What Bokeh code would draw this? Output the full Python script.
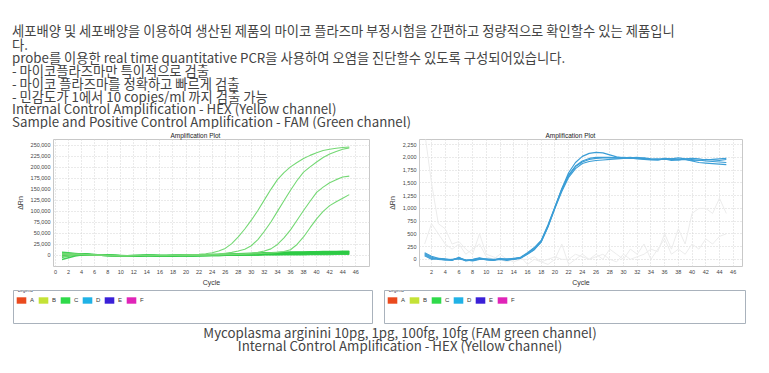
from bokeh.plotting import figure
from bokeh.layouts import column, row
from bokeh.models import (Div, FixedTicker, NumeralTickFormatter, Legend, LegendItem,
                          Label, Title)
from bokeh.embed import file_html
from bokeh.resources import INLINE

# ---------------- data ----------------
intro_first = "세포배양 및 세포배양을 이용하여 생산된 제품의 마이코 플라즈마 부정시험을 간편하고 정량적으로 확인할수 있는 제품입니"
intro_rest = [
    "다.",
    "probe를 이용한 real time quantitative PCR을 사용하여 오염을 진단할수 있도록 구성되어있습니다.",
    "- 마이코플라즈마만 특이적으로 검출",
    "- 마이코 플라즈마를 정확하고 빠르게 검출",
    "- 민감도가 1에서 10 copies/ml 까지 검출 가능",
    "Internal Control Amplification - HEX (Yellow channel)",
    "Sample and Positive Control Amplification - FAM (Green channel)",
]
caption_lines = [
    "Mycoplasma arginini 10pg, 1pg, 100fg, 10fg (FAM green channel)",
    "Internal Control Amplification - HEX (Yellow channel)",
]
plot_title = "Amplification Plot"
x_label = "Cycle"
y_label = "ΔRn"
legend_labels = ["A", "B", "C", "D", "E", "F"]
legend_colors = ["#ea4a1e", "#c4e236", "#2fda4a", "#20b2e6", "#3a20d8", "#e024b8"]

cycles = list(range(1, 46))
fam_x_ticks = list(range(0, 47, 2))
fam_y_ticks = list(range(0, 250001, 25000))
hex_x_ticks = list(range(2, 47, 2))
hex_y_ticks = list(range(0, 2251, 250))

# FAM channel: four positive amplification curves (10pg, 1pg, 100fg, 10fg)
fam_amp_10pg = [3000, 3500, 3000, 2500, 1500, 1000, 500, 0, -500, -1000, -1000, -500, 0, 0, 0,
                0, 0, 500, 1000, 1500, 2000, 2500, 4000, 6000, 10000, 16000, 27000, 42000, 60000,
                80000, 102000, 126000, 150000, 172000, 188000, 201000, 211000, 220000, 227000,
                233000, 238000, 241000, 243000, 245000, 246000]
fam_amp_1pg = [1000, 2000, 2500, 2500, 2000, 1000, 500, 0, 0, -500, -500, 0, 0, 0, 0,
               -500, -500, 0, 0, 500, 1000, 1500, 2000, 2500, 3000, 5000, 7000, 10000, 14000,
               22000, 36000, 55000, 76000, 100000, 124000, 148000, 170000, 189000, 201000,
               212000, 222000, 230000, 236000, 241000, 244000]
fam_amp_100fg = [5000, 4000, 3000, 2500, 2000, 1000, 500, 0, -500, -500, 0, 0, 0, 0, 0,
                 0, 0, 0, 0, 0, 500, 500, 1000, 1500, 2000, 2500, 3000, 3500, 4000,
                 5000, 7000, 10000, 15000, 25000, 40000, 58000, 80000, 102000, 123000,
                 143000, 155000, 165000, 172000, 178000, 180000]
fam_amp_10fg = [-3000, -1000, 1000, 2000, 2000, 1500, 1000, 500, 0, 0, -500, -500, 0, 0, 0,
                0, 0, 0, 0, 0, 0, 500, 500, 1000, 1000, 1500, 2000, 2500, 3000,
                3500, 4000, 5000, 6000, 7000, 9000, 13000, 25000, 42000, 63000, 83000,
                100000, 113000, 122000, 130000, 138000]
# FAM channel: flat (negative / non-amplifying) wells
fam_flat_1 = [7000, 6000, 4500, 3000, 2000, 1000, 500, 0, 0, -500, -500, 0, 0, 0, 0,
              0, 0, 0, 500, 500, 1000, 1000, 1500, 2000, 2500, 3000, 3500, 4000, 4500, 5000,
              5500, 6000, 6000, 6500, 7000, 7500, 8000, 8000, 8500, 8500, 9000, 9000, 9000, 9500, 9500]
fam_flat_2 = [4000, 3500, 3000, 2500, 2000, 1500, 1000, 500, 0, -500, -1000, -500, 0, 0, -500,
              -1000, -500, 0, 0, -500, -500, 0, 0, 500, 1000, 1500, 2000, 2500, 3000, 3500,
              4000, 4500, 5000, 5500, 6000, 6500, 7000, 7000, 7500, 7500, 8000, 8000, 8000, 8500, 8500]
fam_flat_3 = [2000, 2500, 3000, 3000, 2500, 2000, 1000, 500, 0, -500, -1000, -1000, -500, 0, 0,
              -500, -500, 0, 0, 0, 500, 500, 1000, 1000, 1500, 2000, 2500, 3000, 3000, 3500,
              4000, 4000, 4500, 5000, 5000, 5500, 5500, 6000, 6000, 6000, 6500, 6500, 6500, 7000, 7000]
fam_flat_4 = [0, 1500, 2500, 3000, 2000, 1000, 500, 0, 0, 0, -500, -500, 0, 0, 0,
              0, 0, -500, -500, 0, 0, 0, 500, 500, 1000, 1000, 1500, 1500, 2000, 2500,
              2500, 3000, 3000, 3500, 3500, 4000, 4000, 4500, 4500, 4500, 5000, 5000, 5000, 5500, 5500]
fam_flat_5 = [-2000, 0, 1500, 2500, 2000, 1500, 500, 0, -500, -1000, -1500, -1000, -500, 0, 0,
              -500, -1000, -1000, -500, 0, 0, 0, 0, 500, 500, 1000, 1000, 1500, 1500, 2000,
              2000, 2500, 2500, 2500, 3000, 3000, 3000, 3500, 3500, 3500, 3500, 4000, 4000, 4000, 4000]
fam_flat_6 = [-4000, -1000, 1000, 2000, 2000, 1500, 1000, 500, 0, -500, -500, 0, 0, 0, 0,
              0, 0, 0, 0, 0, 0, 0, 0, 0, 0, 500, 500, 500, 1000, 1000,
              1000, 1500, 1500, 1500, 2000, 2000, 2000, 2000, 2500, 2500, 2500, 2500, 3000, 3000, 3000]
fam_flat_7 = [-9000, -5000, -1000, 1000, 1500, 1000, 500, 0, 0, -500, -1000, -1000, -500, 0, 0,
              -500, -500, 0, 0, -500, -1000, -500, 0, 0, 0, 500, 1000, 1500, 2000, 2000,
              2500, 3000, 3500, 4000, 4500, 5000, 5500, 6000, 6500, 7000, 7000, 7500, 8000, 8000, 8000]

# HEX channel: internal control curves
hex_ic_1 = [130, 60, 20, 0, -10, 30, -20, 0, 30, 0, -10, 10, 0, 20, 40,
            130, 230, 370, 680, 1030, 1380, 1660, 1830, 1930, 1980,
            2000, 2000, 2000, 1990, 1990, 1980, 1990, 1970, 1960, 1970,
            1960, 1970, 1960, 1960, 1940, 1950, 1930, 1920, 1910, 1900]
hex_ic_2 = [110, 40, 10, -10, -20, 40, -30, -10, 20, -10, -20, 0, -20, 10, 30,
            120, 220, 360, 660, 1010, 1380, 1700, 1900, 2020, 2080,
            2100, 2090, 2050, 2010, 1990, 2000, 1980, 1990, 1970, 1960,
            1980, 1970, 1990, 1970, 1960, 1940, 1960, 1950, 1940, 1960]
hex_ic_3 = [90, 20, 0, -10, 0, 10, -20, -20, 10, 0, -20, 20, -10, 0, 20,
            100, 190, 340, 640, 1000, 1330, 1610, 1780, 1880, 1920,
            1940, 1950, 1960, 1970, 1980, 1990, 2000, 1980, 1960, 1950,
            1970, 1940, 1950, 1960, 1930, 1900, 1890, 1880, 1870, 1860]
hex_ic_4 = [70, 0, 20, 10, -10, 20, -10, -30, 0, 10, 0, 0, 10, 10, 30,
            110, 200, 350, 650, 1020, 1360, 1640, 1820, 1910, 1960,
            1980, 1990, 1990, 1990, 2000, 1990, 1970, 1960, 1950, 1950,
            1970, 1960, 1950, 1970, 1980, 1970, 1950, 1960, 1970, 1980]
# HEX channel: faint background traces
hex_bg_1 = [2500, 1500, 700, 600, 300, 350, 200, 100, 500, 100, 50, 0, -50, 0, 50,
            -100, 0, -50, -100, 0, 300, -100, 0, 100, 0,
            50, 100, 0, -50, 100, 0, 50, 100, 200, 150,
            500, 200, 600, 300, 900, 1000, 1000, 900, 1200, 900]
hex_bg_2 = [300, 700, 500, 300, 200, 300, 100, 200, 300, 50, 0, 100, 0, -50, 0,
            0, 50, -50, 0, 50, 0, 0, 100, 50, 0,
            100, 0, 200, 100, 0, 200, 100, 300, 0, 200,
            400, 100, 200, 100, 300, 200, 400, 300, 450, 500]

fam_amp = [fam_amp_10pg, fam_amp_1pg, fam_amp_100fg, fam_amp_10fg]
fam_flat = [fam_flat_1, fam_flat_2, fam_flat_3, fam_flat_4, fam_flat_5, fam_flat_6, fam_flat_7]
hex_ic = [hex_ic_1, hex_ic_2, hex_ic_3, hex_ic_4]
hex_bg = [hex_bg_1, hex_bg_2]

# ---------------- styles ----------------
TXT_FONT = "'Noto Sans CJK KR', 'Noto Sans', sans-serif"
TICK_FONT = "Liberation Sans"


def style_chart(p, xticks, yticks, title_offset):
    p.title = Title(text=plot_title, align="left", text_font=TICK_FONT,
                    text_font_size="6.5px", text_font_style="normal", text_color="#222",
                    standoff=1, offset=title_offset)
    p.outline_line_color = "#c8c8c8"
    p.background_fill_color = "white"
    p.border_fill_color = "white"
    for ax in (p.xaxis[0], p.yaxis[0]):
        ax.axis_line_color = None
        ax.major_tick_line_color = None
        ax.minor_tick_line_color = None
        ax.major_tick_out = 0
        ax.major_tick_in = 0
        ax.major_label_text_font = TICK_FONT
        ax.major_label_text_font_size = "5.5px"
        ax.major_label_text_color = "#444"
        ax.axis_label_text_font = TICK_FONT
        ax.axis_label_text_font_size = "7px"
        ax.axis_label_text_font_style = "normal"
        ax.axis_label_text_color = "#333"
        ax.major_label_standoff = 3
        ax.axis_label_standoff = 4
    p.xaxis[0].ticker = FixedTicker(ticks=xticks)
    p.yaxis[0].ticker = FixedTicker(ticks=yticks)
    p.xaxis[0].axis_label = x_label
    p.yaxis[0].axis_label = y_label
    p.xaxis[0].axis_label_standoff = 2
    p.xgrid.ticker = FixedTicker(ticks=xticks)
    for g in (p.xgrid[0], p.ygrid[0]):
        g.grid_line_color = "#d4d4d4"
        g.grid_line_dash = "1 2"
        g.grid_line_width = 1


# ---------------- left chart (FAM) ----------------
p1 = figure(width=380, height=160, x_range=(-0.3, 48.1), y_range=(-25000, 263000),
            output_backend="svg", toolbar_location=None,
            min_border_left=53, min_border_right=11, min_border_top=10, min_border_bottom=20)
style_chart(p1, fam_x_ticks, fam_y_ticks, 117)
p1.yaxis[0].formatter = NumeralTickFormatter(format="0,0")
for ys in fam_flat:
    p1.line(cycles, ys, line_color="#2ecb45", line_width=1.6, line_alpha=0.9)
for ys in fam_amp:
    p1.line(cycles, ys, line_color="#74d874", line_width=1.1)

# ---------------- right chart (HEX) ----------------
p2 = figure(width=381, height=160, x_range=(0.25, 47.36), y_range=(-141, 2352),
            output_backend="svg", toolbar_location=None,
            min_border_left=39, min_border_right=19, min_border_top=11, min_border_bottom=20)
style_chart(p2, hex_x_ticks, hex_y_ticks, 126)
p2.yaxis[0].formatter = NumeralTickFormatter(format="0,0")
for ys in hex_bg:
    p2.line(cycles, ys, line_color="#ececec", line_width=1)
for ys in hex_ic:
    p2.line(cycles, ys, line_color="#3c9ed6", line_width=1.2)


# ---------------- legend panels ----------------
def legend_panel(width, left, right):
    lp = figure(width=width, height=40, x_range=(0, 1), y_range=(0, 1),
                output_backend="svg", toolbar_location=None,
                min_border_left=left, min_border_right=right, min_border_top=2, min_border_bottom=5)
    lp.axis.visible = False
    lp.grid.visible = False
    lp.outline_line_color = "#a9b2bc"
    lp.outline_line_width = 1
    items = []
    for lab, col in zip(legend_labels, legend_colors):
        # placeholder glyph kept outside the visible range: only its legend swatch shows
        r = lp.quad(left=[-3], right=[-2], top=[-2], bottom=[-3], fill_color=col, line_color=None)
        items.append(LegendItem(label=lab, renderers=[r]))
    leg = Legend(items=items, orientation="horizontal", location=(2, 19),
                 glyph_width=12, glyph_height=8, label_standoff=3, label_width=7,
                 label_height=8, spacing=0, padding=0, margin=0,
                 label_text_font=TICK_FONT, label_text_font_size="6px",
                 label_text_color="#333", border_line_color=None,
                 background_fill_alpha=0)
    lp.add_layout(leg)
    lp.add_layout(Label(x=0.012, y=1.0, text="Legend", text_font=TICK_FONT,
                        text_font_size="4.5px", text_color="#445",
                        text_baseline="middle", background_fill_color="white"))
    return lp


l1 = legend_panel(380, 13, 8)
l2 = legend_panel(381, 4, 16)

# ---------------- text blocks ----------------
top_html = (
    f"<div style=\"font-family:{TXT_FONT};font-size:13.3px;color:#444;white-space:nowrap;"
    f"padding:24px 0 0 12px;\">"
    f"<div style=\"line-height:13px;margin-bottom:2.4px;\">{intro_first}</div>"
    + "".join(f"<div style=\"line-height:12.8px;\">{t}</div>" for t in intro_rest)
    + "</div>"
)
div_top = Div(text=top_html, width=761, height=128, margin=0)

cap_html = (
    f"<div style=\"font-family:{TXT_FONT};font-size:13.3px;color:#444;white-space:nowrap;"
    f"width:722px;text-align:center;margin:-1px 0 0 39px;line-height:12.8px;\">"
    + "".join(f"<div style=\"width:722px;text-align:center;\">{t}</div>" for t in caption_lines)
    + "</div>"
)
div_cap = Div(text=cap_html, width=761, height=37, margin=0)

layout = column(div_top, row(p1, p2, spacing=0), row(l1, l2, spacing=0), div_cap, spacing=0)

open("out.html", "w").write(file_html(layout, INLINE))
